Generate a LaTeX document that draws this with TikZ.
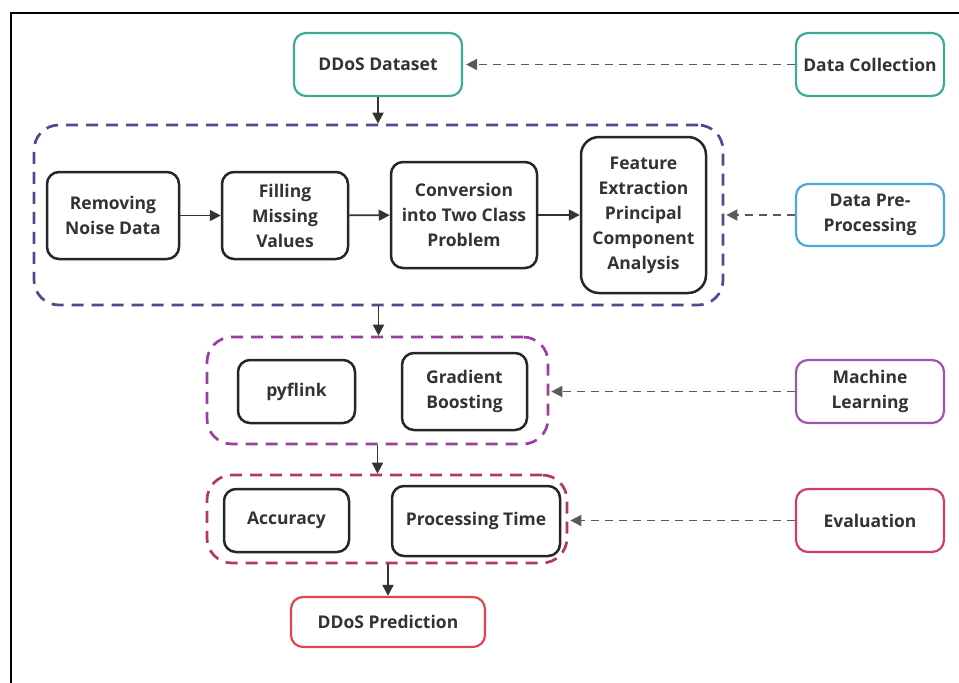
\documentclass[tikz,border=0pt]{standalone}
\usepackage{fontspec}
\setmainfont{Open Sans}
\usetikzlibrary{arrows.meta}
\definecolor{txt}{HTML}{333333}
\definecolor{teal1}{HTML}{3DAA98}
\definecolor{blue1}{HTML}{4BA6DC}
\definecolor{purp1}{HTML}{9C55B0}
\definecolor{pink1}{HTML}{D23C74}
\definecolor{red1}{HTML}{E0474C}
\definecolor{navyg}{HTML}{4B4B8F}
\definecolor{purpg}{HTML}{9A3F9F}
\definecolor{evalg}{HTML}{B13A5E}
\definecolor{lnk}{HTML}{5A5A5A}
\tikzset{
  base/.style={rectangle, rounded corners=12pt, align=center, text=txt,
    font=\fontsize{17.5}{25}\selectfont\bfseries, inner sep=2pt},
  proc/.style={base, draw=black!85, line width=2.5pt},
  side/.style={base, draw=#1, line width=2.2pt, fill=white},
  grp/.style={rectangle, rounded corners=25pt, draw=#1, line width=2.7pt,
    dash pattern=on 12pt off 8pt, inner sep=0pt},
  arr/.style={draw=txt, line width=1.8pt, -{Triangle[length=11pt,width=11pt]}},
  dlink/.style={draw=lnk, line width=1.8pt, dash pattern=on 8pt off 6pt,
    -{Triangle[length=11pt,width=11pt]}},
}
\begin{document}
\begin{tikzpicture}[x=1pt,y=-1pt]
\useasboundingbox (0,0) rectangle (959,683);
% frame
\draw[line width=2pt] (11,683) -- (11,13) -- (959,13);
% groups
\node[grp=navyg, minimum width=689pt, minimum height=180pt] (g1) at (378.5,215) {};
\node[grp=purpg, minimum width=341pt, minimum height=107pt] (g2) at (377.5,390.5) {};
\node[grp=evalg, minimum width=360pt, minimum height=88pt] (g3) at (387,519) {};
% top
\node[side=teal1, minimum width=168pt, minimum height=63pt] (dds) at (378,64.5) {DDoS Dataset};
\node[side=teal1, minimum width=148pt, minimum height=63pt] (dc) at (870,64.5) {Data Collection};
% preprocessing
\node[proc, minimum width=132pt, minimum height=87pt] (rn) at (113,215.5) {Removing\\Noise Data};
\node[proc, minimum width=126pt, minimum height=87pt] (fm) at (285,215.5) {Filling\\Missing\\Values};
\node[proc, minimum width=146pt, minimum height=106pt] (cv) at (464,215) {Conversion\\into Two Class\\Problem};
\node[proc, rounded corners=18pt, minimum width=125pt, minimum height=156pt] (fe) at (643.5,215) {Feature\\Extraction\\Principal\\Component\\Analysis};
\node[side=blue1, minimum width=148pt, minimum height=62pt] (dpp) at (870,215) {Data Pre-\\Processing};
% ML
\node[proc, minimum width=117pt, minimum height=63pt] (pf) at (296.5,391.5) {pyflink};
\node[proc, minimum width=125pt, minimum height=77pt] (gb) at (464.5,391.5) {Gradient\\Boosting};
\node[side=purp1, minimum width=148pt, minimum height=63pt] (ml) at (870,391.5) {Machine\\Learning};
% evaluation
\node[proc, minimum width=125pt, minimum height=63pt] (acc) at (286.5,520.5) {Accuracy};
\node[proc, minimum width=168pt, minimum height=70pt] (pt) at (476,521) {Processing Time};
\node[side=pink1, minimum width=148pt, minimum height=63pt] (ev) at (870,520.5) {Evaluation};
% prediction
\node[side=red1, minimum width=194pt, minimum height=50pt] (pred) at (388,622) {DDoS Prediction};
% arrows
\draw[arr] (dds.south) -- (dds.south |- g1.north);
\draw[arr] (rn) -- (fm);
\draw[arr] (fm) -- (cv);
\draw[arr] (cv) -- (fe);
\draw[arr] (g1.south) -- (g1.south |- g2.north);
\draw[arr] (g2.south) -- (g2.south |- g3.north);
\draw[arr] (pred.north |- g3.south) -- (pred.north);
% dashed links
\draw[dlink] (dc.west) -- ([xshift=3pt]dds.east);
\draw[dlink] (dpp.west) -- ([xshift=2pt]dpp.west -| g1.east);
\draw[dlink] (ml.west) -- ([xshift=2pt]ml.west -| g2.east);
\draw[dlink] (ev.west) -- ([xshift=2pt]ev.west -| g3.east);
\end{tikzpicture}
\end{document}
